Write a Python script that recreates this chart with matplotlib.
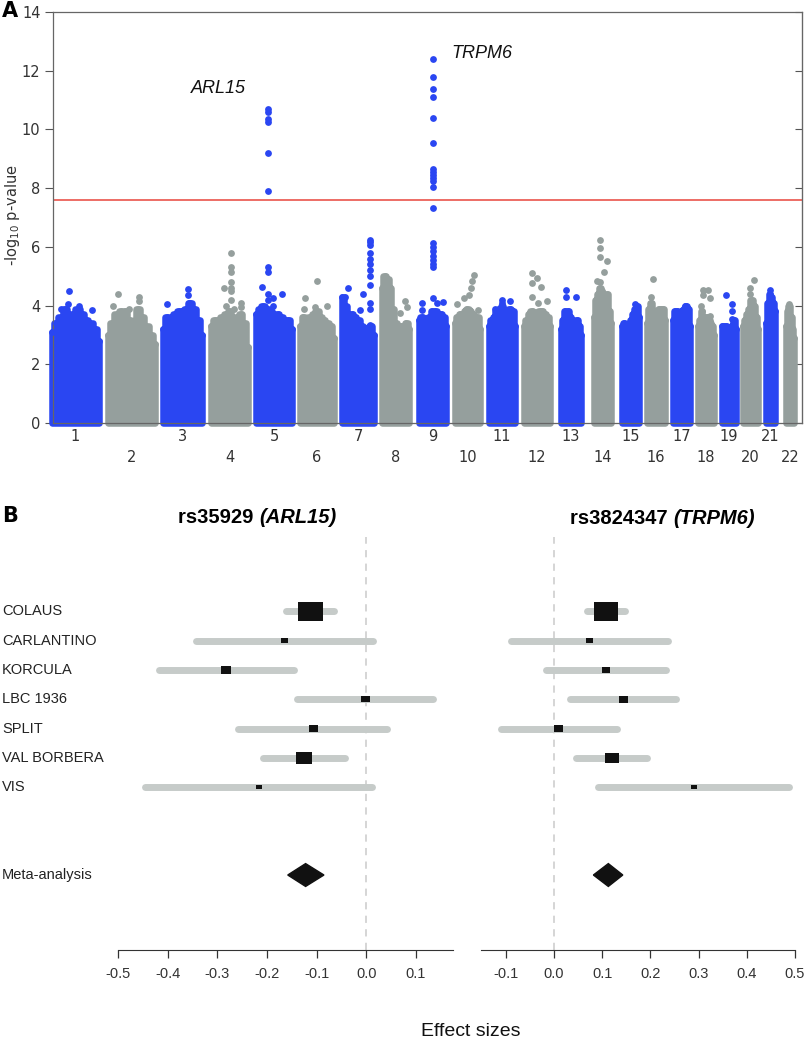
import numpy as np
import matplotlib
matplotlib.use('Agg')
import matplotlib.pyplot as plt
from matplotlib.path import Path
from matplotlib.patches import Polygon
from matplotlib.transforms import blended_transform_factory

# ---------------- panel A: Manhattan plot ----------------
chromosomes = [str(i) for i in range(1, 23)]
# chromosome extents on the genome axis (plot units)
chrom_start = [52, 108, 163, 211, 256, 300, 342, 382, 419, 455, 489, 524, 561, 594, 622, 647, 673, 698, 722, 743, 766, 786]
chrom_end = [99, 155, 202, 248, 292, 334, 374, 409, 446, 480, 515, 550, 581, 611, 639, 665, 690, 714, 736, 758, 775, 794]

# upper edge of the dense cloud of SNPs, read along each chromosome
cloud_top = [
    [3.1, 3.4, 3.6, 3.9, 3.7, 3.1, 3.9, 3.7, 3.5, 3.4, 3.2, 2.8],
    [3.0, 3.4, 3.7, 3.8, 3.8, 3.5, 3.3, 3.9, 3.6, 3.3, 3.0, 2.7],
    [3.2, 3.6, 3.5, 3.7, 3.8, 3.3, 3.9, 4.1, 3.9, 3.5, 3.0],
    [3.3, 3.5, 3.5, 3.6, 3.7, 3.8, 3.6, 3.5, 3.7, 3.4, 2.6],
    [3.7, 3.9, 4.0, 3.9, 3.8, 3.7, 3.7, 3.6, 3.5, 3.5, 3.2],
    [3.3, 3.6, 3.5, 3.6, 3.7, 3.8, 3.6, 3.5, 3.4, 3.3, 2.9],
    [4.3, 4.0, 3.7, 3.7, 3.6, 3.5, 3.3, 3.0, 3.0, 3.3, 3.0],
    [4.6, 5.0, 4.9, 4.6, 3.9, 3.4, 3.3, 3.3, 3.3, 3.4, 3.2],
    [3.5, 3.6, 3.5, 3.5, 3.6, 3.8, 3.8, 3.7, 3.7, 3.6, 3.3],
    [3.4, 3.6, 3.7, 3.7, 3.8, 3.9, 3.8, 3.7, 3.6, 3.6, 3.2],
    [3.3, 3.5, 3.6, 3.8, 3.9, 4.0, 3.8, 3.8, 3.9, 3.8, 3.3],
    [3.3, 3.5, 3.7, 3.8, 3.6, 3.7, 3.8, 3.8, 3.7, 3.6, 3.3],
    [3.2, 3.5, 3.8, 3.8, 3.6, 3.3, 3.4, 3.5, 3.3, 3.0],
    [3.6, 4.2, 4.4, 4.6, 4.5, 4.2, 4.3, 4.4, 3.8, 3.4],
    [3.3, 3.4, 3.3, 3.2, 3.2, 3.5, 3.7, 3.9, 4.0, 3.6],
    [3.4, 3.9, 4.1, 3.6, 3.5, 3.8, 3.9, 3.9, 3.9, 3.5],
    [3.5, 3.8, 3.8, 3.6, 3.5, 3.8, 3.9, 4.0, 3.9, 3.3],
    [3.3, 3.5, 3.8, 3.6, 3.5, 3.6, 3.5, 3.4, 3.3, 3.0],
    [3.3, 3.3, 3.3, 3.2, 3.0, 3.3, 3.5, 3.2],
    [3.3, 3.5, 3.7, 3.9, 4.2, 4.0, 3.6, 3.2],
    [3.4, 4.1, 4.4, 4.3, 4.1, 3.8],
    [3.3, 3.8, 4.0, 3.6, 3.2, 2.9],
]

# isolated SNPs above the cloud: relative position in chromosome, -log10 p
peak_pos = [
    [0.2, 0.33, 0.36, 0.58, 0.86],
    [0.1, 0.21, 0.44, 0.66, 0.66],
    [0.11, 0.64, 0.65, 0.66],
    [0.35, 0.4, 0.53, 0.53, 0.53, 0.53, 0.53, 0.53, 0.53, 0.63, 0.81, 0.81],
    [0.33, 0.33, 0.33, 0.33, 0.33, 0.33, 0.33, 0.33, 0.33, 0.33, 0.17, 0.48, 0.48, 0.71],
    [0.14, 0.12, 0.49, 0.45, 0.78],
    [0.86, 0.86, 0.86, 0.86, 0.86, 0.86, 0.86, 0.86, 0.86, 0.86, 0.86, 0.86, 0.2, 0.67, 0.55, 0.1],
    [0.87, 0.65, 0.92],
    [0.52] * 21 + [0.12, 0.12, 0.65, 0.9],
    [0.1, 0.37, 0.58, 0.63, 0.67, 0.78, 0.92],
    [0.23, 0.49, 0.49, 0.8],
    [0.31, 0.31, 0.31, 0.49, 0.55, 0.67, 0.9],
    [0.24, 0.24, 0.75],
    [0.36, 0.36, 0.36, 0.78, 0.6, 0.17, 0.36],
    [0.79],
    [0.32, 0.22, 0.22],
    [0.7],
    [0.3, 0.3, 0.6, 0.75, 0.75, 0.2],
    [0.3, 0.72, 0.72, 0.72],
    [0.71, 0.48, 0.48, 0.6],
    [0.42],
    [0.4],
]
peak_val = [
    [3.9, 4.05, 4.5, 4.0, 3.85],
    [4.0, 4.4, 3.9, 4.3, 4.15],
    [4.05, 4.35, 4.55, 4.1],
    [4.6, 4.0, 5.8, 5.3, 5.15, 4.8, 4.6, 4.5, 4.2, 3.9, 4.1, 3.95],
    [10.7, 10.6, 10.34, 10.24, 9.19, 7.89, 5.32, 5.15, 4.4, 4.2, 4.64, 4.25, 4.0, 4.4],
    [4.25, 3.9, 4.85, 3.95, 4.0],
    [6.25, 6.15, 6.05, 5.8, 5.6, 5.4, 5.2, 5.0, 4.7, 4.1, 3.9, 3.35, 4.6, 4.4, 3.85, 4.3],
    [4.15, 3.75, 3.95],
    [12.39, 11.77, 11.39, 11.09, 10.38, 9.53, 8.65, 8.55, 8.45, 8.35, 8.25, 8.05, 7.31,
     6.12, 6.0, 5.85, 5.7, 5.55, 5.4, 5.3, 4.25, 4.1, 3.85, 4.1, 4.13],
    [4.05, 4.25, 4.35, 4.6, 4.85, 5.04, 3.85],
    [3.9, 4.2, 4.1, 4.15],
    [5.1, 4.78, 4.3, 4.93, 4.1, 4.62, 4.17],
    [4.53, 4.3, 4.3],
    [6.23, 5.95, 5.65, 5.52, 5.15, 4.85, 4.8],
    [4.05],
    [4.89, 4.3, 4.1],
    [4.0],
    [4.53, 4.35, 4.53, 4.25, 3.65, 4.0],
    [4.36, 4.07, 3.8, 3.55],
    [4.87, 4.6, 4.4, 4.1],
    [4.53],
    [4.05],
]
threshold = 7.6
gene_labels = ['ARL15', 'TRPM6']
gene_label_x = [191, 451]
gene_label_y = [11.4, 12.6]

# ---------------- panel B: forest plots ----------------
studies = ['COLAUS', 'CARLANTINO', 'KORCULA', 'LBC 1936', 'SPLIT', 'VAL BORBERA', 'VIS']
arl15_est = [-0.113, -0.164, -0.282, -0.002, -0.107, -0.125, -0.216]
arl15_lo = [-0.162, -0.342, -0.418, -0.140, -0.258, -0.208, -0.445]
arl15_hi = [-0.065, 0.0145, -0.146, 0.134, 0.043, -0.043, 0.0125]
arl15_box = [25, 7.3, 10, 8.7, 9, 15.7, 6.3]
arl15_meta = [-0.158, -0.122, -0.085]

trpm6_est = [0.108, 0.074, 0.108, 0.145, 0.0105, 0.120, 0.290]
trpm6_lo = [0.069, -0.089, -0.016, 0.034, -0.110, 0.045, 0.091]
trpm6_hi = [0.148, 0.237, 0.233, 0.254, 0.130, 0.193, 0.488]
trpm6_box = [24.7, 6.7, 8.3, 9.3, 9, 13.7, 5.7]
trpm6_meta = [0.082, 0.113, 0.143]

arl15_ticks = [-0.5, -0.4, -0.3, -0.2, -0.1, 0.0, 0.1]
trpm6_ticks = [-0.1, 0.0, 0.1, 0.2, 0.3, 0.4, 0.5]

BLUE = '#2a46f2'
GREY = '#959f9d'
W, H = 807, 1044

fig = plt.figure(figsize=(W / 100, H / 100), dpi=100)


def px_axes(x0, y0, x1, y1):
    return fig.add_axes([x0 / W, 1 - y1 / H, (x1 - x0) / W, (y1 - y0) / H])


ax = px_axes(53, 12, 802, 423)
ax.set_xlim(53, 802)
ax.set_ylim(0, 14)

for i in range(22):
    color = BLUE if i % 2 == 0 else GREY
    top = np.array(cloud_top[i])
    xs = np.linspace(chrom_start[i], chrom_end[i], len(top))
    ax.fill_between(xs, 0, top, step='mid', color=color, linewidth=4.7, edgecolor=color,
                    joinstyle='round', clip_on=False, zorder=2)
    ax.scatter(xs, top, s=24, color=color, linewidths=0, clip_on=False, zorder=3)
    px = chrom_start[i] + np.array(peak_pos[i]) * (chrom_end[i] - chrom_start[i])
    ax.scatter(px, peak_val[i], s=24, color=color, linewidths=0, clip_on=False, zorder=3)
    cx = (chrom_start[i] + chrom_end[i]) / 2
    row_y = -0.032 if i % 2 == 0 else -0.085
    ax.text(cx, row_y, chromosomes[i], transform=ax.get_xaxis_transform(),
            ha='center', va='center', fontsize=10.5, color='#333333')

ax.axhline(threshold, color='#e8453c', lw=1.1, zorder=1)

for name, gx, gy in zip(gene_labels, gene_label_x, gene_label_y):
    ax.text(gx, gy, name, style='italic', fontsize=13, family='Liberation Sans',
            ha='left', va='center', color='#111111')

ax.set_xticks([])
ax.set_yticks(range(0, 15, 2))
ax.tick_params(axis='y', direction='out', length=6, width=0.8, colors='#555555',
               labelcolor='#333333', labelsize=10.5, pad=3)
for sp in ax.spines.values():
    sp.set_color('#666666')
    sp.set_linewidth(0.9)
sec = ax.secondary_yaxis('right')
sec.set_yticks(range(0, 15, 2))
sec.tick_params(direction='in', length=5, width=0.8, colors='#555555', labelright=False)
sec.spines['right'].set_color('#666666')

fig.text(13 / W, 1 - 215 / H, r'-log$_{10}$ p-value', rotation=90, ha='center',
         va='center', fontsize=10.5, color='#333333')
fig.text(2 / W, 1 - 11 / H, 'A', fontsize=15, fontweight='bold', ha='left', va='center')

# ---------------- panel B ----------------
rows = np.arange(len(studies))
meta_row = 9
box_marker = Path([(-1, -0.74), (1, -0.74), (1, 0.74), (-1, 0.74), (-1, -0.74)],
                  [Path.MOVETO, Path.LINETO, Path.LINETO, Path.LINETO, Path.CLOSEPOLY])


def forest(ax, est, lo, hi, box, meta, ticks, xlim):
    ax.set_xlim(*xlim)
    ax.set_ylim(11.56, -2.54)
    ax.axvline(0, color='#d2d2d2', lw=1.3, ls=(0, (4, 3.5)), zorder=0)
    for r in rows:
        ax.plot([lo[r], hi[r]], [r, r], color='#c6cbc9', lw=5, solid_capstyle='round', zorder=1)
    ax.scatter(est, rows, s=(np.array(box) * 0.72) ** 2, marker=box_marker,
               color='#111111', linewidths=0, zorder=2)
    d = Polygon([(meta[0], meta_row), (meta[1], meta_row - 0.39), (meta[2], meta_row),
                 (meta[1], meta_row + 0.39)], closed=True, color='#111111', zorder=2)
    ax.add_patch(d)
    for s in ['top', 'left', 'right']:
        ax.spines[s].set_visible(False)
    ax.spines['bottom'].set_color('#333333')
    ax.spines['bottom'].set_bounds(xlim[0], xlim[1])
    ax.set_yticks([])
    ax.set_xticks(ticks)
    ax.set_xticklabels(['%.1f' % t for t in ticks], family='Liberation Sans')
    ax.tick_params(axis='x', length=6, width=0.9, colors='#333333', labelsize=10.5, pad=6)


axl = px_axes(118, 537, 453, 950)
forest(axl, arl15_est, arl15_lo, arl15_hi, arl15_box, arl15_meta, arl15_ticks, (-0.5, 0.175))
axr = px_axes(481, 537, 795, 950)
forest(axr, trpm6_est, trpm6_lo, trpm6_hi, trpm6_box, trpm6_meta, trpm6_ticks, (-0.151, 0.5))

lab_tr = blended_transform_factory(fig.transFigure, axl.transData)
for r, name in zip(rows, studies):
    axl.text(2 / W, r, name, transform=lab_tr, ha='left', va='center', fontsize=10.5,
             family='Liberation Sans', color='#222222', clip_on=False)
axl.text(2 / W, meta_row, 'Meta-analysis', transform=lab_tr, ha='left', va='center',
         fontsize=10.5, family='Liberation Sans', color='#222222', clip_on=False)

fig.text(259 / W, 1 - 517 / H, 'rs35929 ', ha='right', va='center', fontsize=14.5,
         fontweight='bold', family='Liberation Sans')
fig.text(259 / W, 1 - 517 / H, '(ARL15)', ha='left', va='center', fontsize=14.5,
         fontweight='bold', style='italic', family='Liberation Sans')
fig.text(673 / W, 1 - 519 / H, 'rs3824347 ', ha='right', va='center', fontsize=14.5,
         fontweight='bold', family='Liberation Sans')
fig.text(673 / W, 1 - 519 / H, '(TRPM6)', ha='left', va='center', fontsize=14.5,
         fontweight='bold', style='italic', family='Liberation Sans')
fig.text(2 / W, 1 - 516 / H, 'B', fontsize=15, fontweight='bold', ha='left', va='center')
fig.text(471 / W, 1 - 1031 / H, 'Effect sizes', ha='center', va='center', fontsize=14,
         family='Liberation Sans', color='#111111')

fig.savefig('out.png', dpi=100)
